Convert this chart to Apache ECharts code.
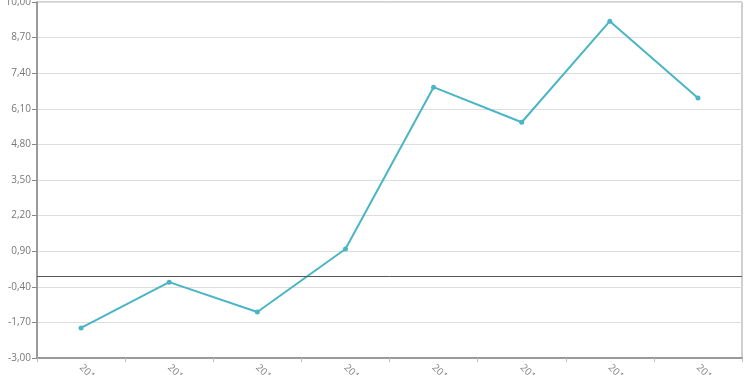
<!DOCTYPE html>
<html><head><meta charset="utf-8">
<script src="https://cdn.jsdelivr.net/npm/echarts@6/dist/echarts.min.js"></script>
<style>html,body{margin:0;padding:0;background:#fff}#c{width:750px;height:375px}</style>
</head><body><div id="c"></div>
<script>
const categories = ['2010','2011','2012','2013','2014','2015','2016','2017'];
const values = [-1.90, -0.23, -1.32, 0.98, 6.89, 5.61, 9.30, 6.49];
const yMin = -3, yMax = 10, yStep = 1.3;

const chart = echarts.init(document.getElementById('c'), null, {renderer:'canvas'});
chart.setOption({
  animation:false,
  grid:{left:37,right:8,top:2,bottom:17,containLabel:false,outerBoundsMode:'none',
    show:true,borderColor:'#a0a0a0',borderWidth:1,backgroundColor:'transparent'},
  xAxis:{type:'category',data:categories,boundaryGap:true,
    axisLine:{onZero:false,lineStyle:{color:'#999',width:2}},
    axisTick:{show:true,length:4,lineStyle:{color:'#bbb'}},
    axisLabel:{rotate:-45,margin:8,fontSize:10,color:'#888',fontFamily:'Open Sans'},
    splitLine:{show:false}},
  yAxis:{type:'value',min:yMin,max:yMax,interval:yStep,
    axisLine:{show:true,lineStyle:{color:'#888',width:1.5}},
    axisTick:{show:true,length:5,lineStyle:{color:'#888'}},
    axisLabel:{fontSize:10,color:'#777',margin:6,fontFamily:'Open Sans',
      formatter:v=>v.toFixed(2).replace('.',',')},
    splitLine:{lineStyle:{color:'#ddd',width:1}}},
  series:[{type:'line',data:values,symbol:'circle',symbolSize:5,
    lineStyle:{color:'#4ab5c4',width:2},itemStyle:{color:'#4ab5c4'},
    markLine:{silent:true,symbol:'none',label:{show:false},
      lineStyle:{color:'#555',width:1,type:'solid'},data:[{yAxis:0}]}}]
});
</script></body></html>
